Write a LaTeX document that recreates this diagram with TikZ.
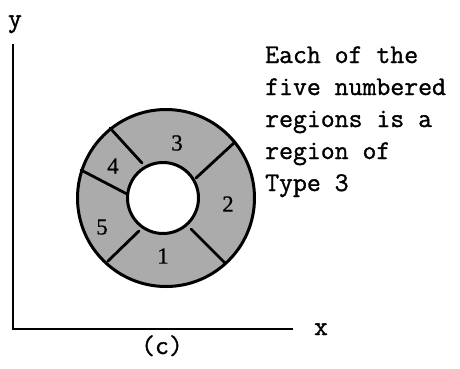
\documentclass[tikz,border=0pt]{standalone}
\usepackage{fontspec}
\newfontfamily\twfont{Latin Modern Mono}[FakeBold=1.2]
\newfontfamily\numfont{Liberation Serif}[FakeBold=0.6]
\begin{document}
\begin{tikzpicture}[x=1pt,y=-1pt,
  ringline/.style={line width=2.8pt,line cap=round},
  axisline/.style={line width=2.6pt},
  twtext/.style={font=\twfont\fontsize{27}{32}\selectfont,inner sep=0pt},
  numtext/.style={font=\numfont\fontsize{23}{25}\selectfont,inner sep=0pt}]
\useasboundingbox (0,0) rectangle (460,368);
% axes
\coordinate (O) at (13,329);
\coordinate (ytop) at (13,44);
\coordinate (xend) at (293,329);
\draw[axisline] (ytop) -- (O) -- (xend);
\node[twtext,anchor=base] (ylab) at (15,27) {y};
\node[twtext,anchor=base] (xlab) at (321,335) {x};
\node[twtext,anchor=base] (clab) at (162,354) {(c)};
% ring
\coordinate (C) at (166,198);
\coordinate (Ci) at (163,198);
\fill[black!33,even odd rule] (C) circle[radius=88.5] (Ci) circle[radius=35.5];
% dividers
\coordinate (a1) at (235,142); \coordinate (a2) at (196,178);
\coordinate (b1) at (110,128); \coordinate (b2) at (142,163);
\coordinate (c1) at (81,170);  \coordinate (c2) at (127,194);
\coordinate (d1) at (108,261); \coordinate (d2) at (139,231);
\coordinate (e1) at (225,263); \coordinate (e2) at (191,229);
\draw[ringline] (a1) -- (a2);
\draw[ringline] (b1) -- (b2);
\draw[ringline] (c1) -- (c2);
\draw[ringline] (d1) -- (d2);
\draw[ringline] (e1) -- (e2);
\draw[line width=3pt] (C) circle[radius=88.5];
\draw[line width=3pt] (Ci) circle[radius=35.5];
% numbers
\node[numtext] (n3) at (177,143) {3};
\node[numtext] (n4) at (113,166) {4};
\node[numtext] (n2) at (228,204) {2};
\node[numtext] (n5) at (102,227) {5};
\node[numtext] (n1) at (163,256) {1};
% text (base anchor of a multi-line node is its last line)
\node[twtext,anchor=base west,align=left] (note) at (265,191)
  {Each of the\\five numbered\\regions is a\\region of\\Type 3};
\end{tikzpicture}
\end{document}
